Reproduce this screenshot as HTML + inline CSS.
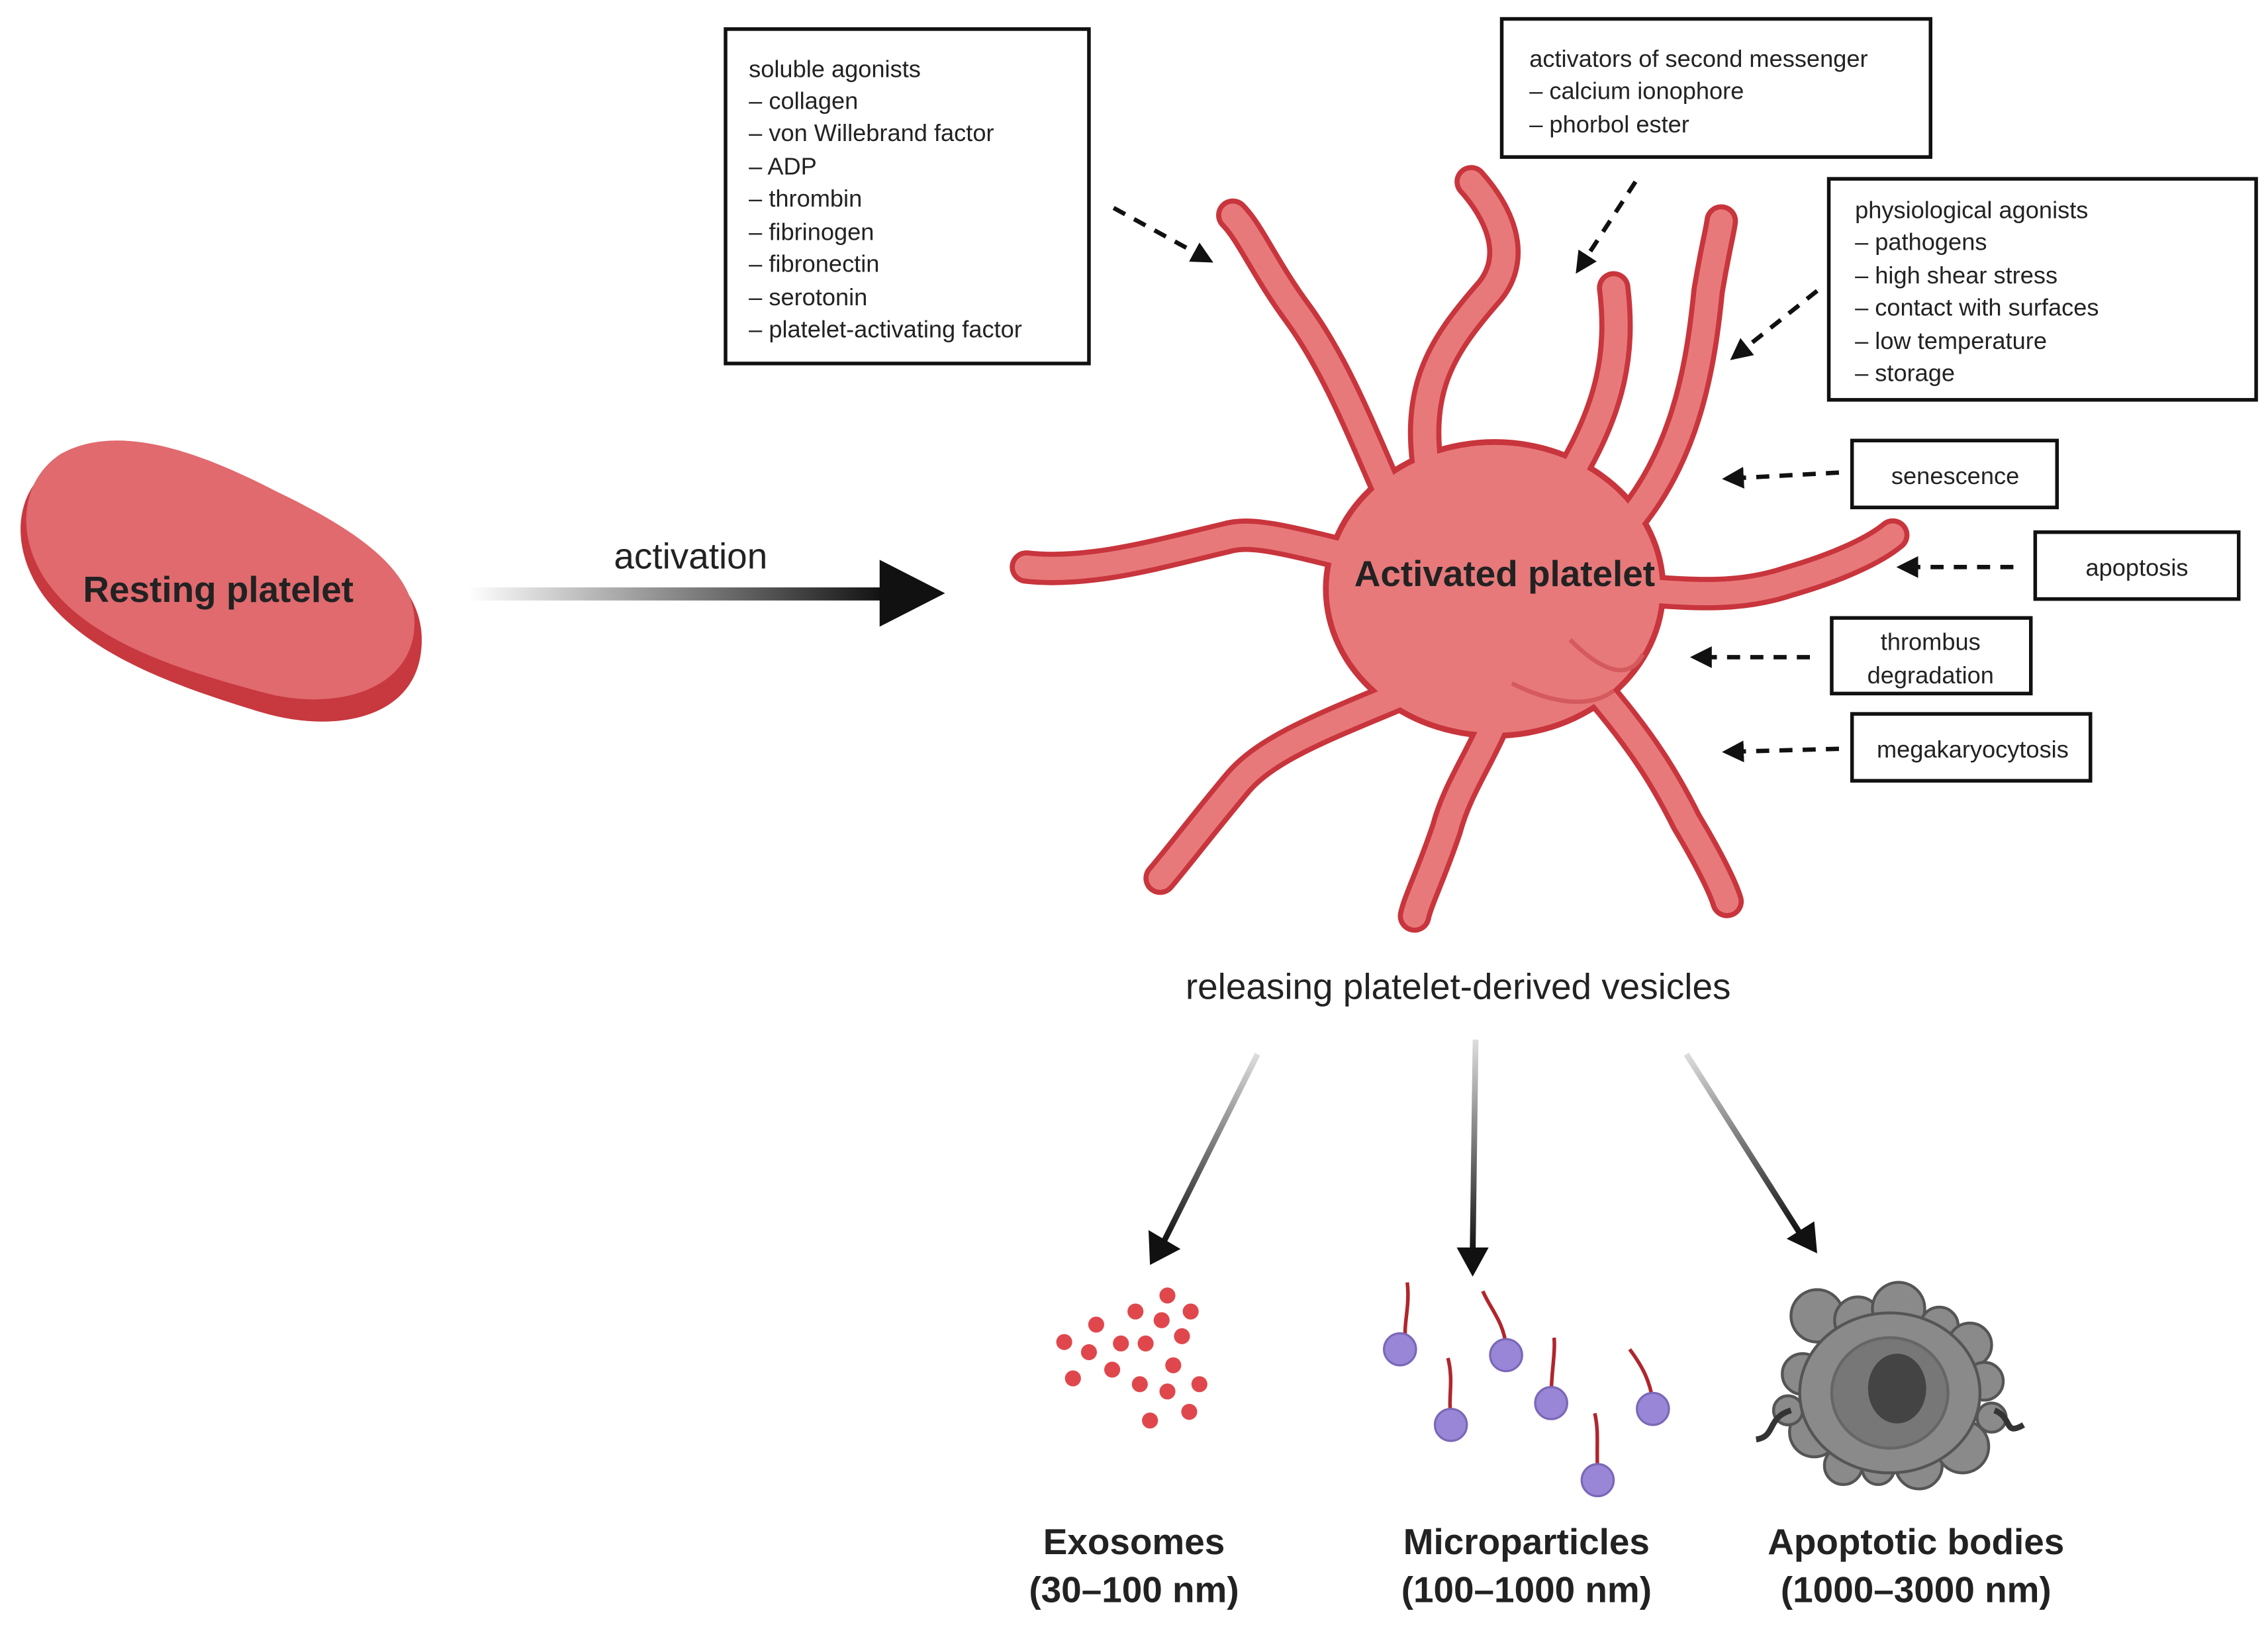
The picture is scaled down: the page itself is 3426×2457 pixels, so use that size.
<!DOCTYPE html>
<html><head><meta charset="utf-8"><style>
html,body{margin:0;padding:0;background:#fff;}
svg{display:block;}
text{font-family:"Liberation Sans",sans-serif;fill:#222;}
</style></head><body>
<svg width="3426" height="2457" viewBox="0 0 1560 1119" xmlns="http://www.w3.org/2000/svg">
<defs>
<linearGradient id="ga" x1="0" x2="1" y1="0" y2="0"><stop offset="0" stop-color="#fff"/><stop offset="1" stop-color="#111"/></linearGradient>
<linearGradient id="gd" x1="0" x2="0" y1="0" y2="1"><stop offset="0" stop-color="#ddd"/><stop offset="1" stop-color="#111"/></linearGradient>
<marker id="dh" markerWidth="5" markerHeight="5" refX="2.5" refY="2.5" orient="auto" markerUnits="strokeWidth"><path d="M0,0 L5,2.5 L0,5 z" fill="#111"/></marker>
<g id="pods">
<path d="M965,360 C945,320 925,260 893,216 C870,185 860,160 848,148"/>
<path d="M985,340 C970,270 990,240 1025,200 C1045,175 1030,145 1012,125"/>
<path d="M1075,335 C1110,280 1115,240 1110,198"/>
<path d="M1110,370 C1160,320 1170,250 1175,200 C1180,170 1183,160 1184,152"/>
<path d="M940,385 C880,370 860,365 843,370 C800,380 750,395 706,390"/>
<path d="M1120,405 C1170,410 1200,410 1230,400 C1265,390 1290,378 1302,368"/>
<path d="M970,475 C910,500 870,515 850,540 C825,570 810,590 798,604"/>
<path d="M1035,480 C1020,520 1003,540 995,570 C985,600 975,620 973,630"/>
<path d="M1095,470 C1130,510 1146,537 1160,565 C1175,590 1185,610 1188,620"/>
</g>
</defs>

<!-- Resting platelet -->
<path d="M40,318 C80,295 140,320 190,345 C240,370 290,395 290,440 C290,495 230,505 180,490 C120,472 60,450 30,410 C5,375 10,335 40,318 Z" fill="#c8383f"/>
<path d="M42,312 C82,290 140,312 190,338 C240,362 285,390 285,428 C285,475 230,490 180,476 C120,460 60,440 32,400 C10,368 14,330 42,312 Z" fill="#e06a6e"/>
<text x="150" y="414" font-size="25" font-weight="bold" text-anchor="middle">Resting platelet</text>

<!-- activation arrow -->
<rect x="322" y="404" width="286" height="9" fill="url(#ga)"/>
<path d="M605,385 L650,408 L605,431 Z" fill="#111"/>
<text x="475" y="391" font-size="25" text-anchor="middle">activation</text>

<!-- Activated platelet -->
<g fill="none" stroke-linecap="round" stroke-linejoin="round" stroke="#c8353c" stroke-width="23"><use href="#pods"/></g>
<ellipse cx="1028" cy="405" rx="118" ry="103" fill="#c8353c"/>
<g fill="none" stroke-linecap="round" stroke-linejoin="round" stroke="#e8797b" stroke-width="16"><use href="#pods"/></g>
<ellipse cx="1028" cy="405" rx="114" ry="99" fill="#e8797b"/>
<path d="M1080,440 C1100,460 1120,470 1130,450 M1040,470 C1060,480 1090,490 1110,475" stroke="#d45a5e" stroke-width="3" fill="none"/>
<text x="1035" y="403" font-size="25" font-weight="bold" text-anchor="middle">Activated platelet</text>

<!-- boxes -->
<g fill="#fff" stroke="#111" stroke-width="2.5">
<rect x="499" y="20" width="250" height="230"/>
<rect x="1033" y="13" width="295" height="95"/>
<rect x="1258" y="123" width="294" height="152"/>
<rect x="1274" y="303" width="141" height="46"/>
<rect x="1400" y="366" width="140" height="46"/>
<rect x="1260" y="425" width="137" height="52"/>
<rect x="1274" y="491" width="164" height="46"/>
</g>
<g font-size="16.5">
<text x="515" y="53">soluble agonists</text>
<text x="515" y="75">– collagen</text>
<text x="515" y="97">– von Willebrand factor</text>
<text x="515" y="120">– ADP</text>
<text x="515" y="142">– thrombin</text>
<text x="515" y="165">– fibrinogen</text>
<text x="515" y="187">– fibronectin</text>
<text x="515" y="210">– serotonin</text>
<text x="515" y="232">– platelet-activating factor</text>
<text x="1052" y="46">activators of second messenger</text>
<text x="1052" y="68">– calcium ionophore</text>
<text x="1052" y="91">– phorbol ester</text>
<text x="1276" y="150">physiological agonists</text>
<text x="1276" y="172">– pathogens</text>
<text x="1276" y="195">– high shear stress</text>
<text x="1276" y="217">– contact with surfaces</text>
<text x="1276" y="240">– low temperature</text>
<text x="1276" y="262">– storage</text>
<text x="1345" y="333" text-anchor="middle">senescence</text>
<text x="1470" y="396" text-anchor="middle">apoptosis</text>
<text x="1328" y="447" text-anchor="middle">thrombus</text>
<text x="1328" y="470" text-anchor="middle">degradation</text>
<text x="1357" y="521" text-anchor="middle">megakaryocytosis</text>
</g>

<!-- dashed arrows -->
<g stroke="#111" stroke-width="3" stroke-dasharray="9,7" fill="none" marker-end="url(#dh)">
<line x1="766" y1="143" x2="828" y2="177"/>
<line x1="1125" y1="125" x2="1088" y2="182"/>
<line x1="1250" y1="200" x2="1196" y2="243"/>
<line x1="1265" y1="325" x2="1192" y2="329"/>
<line x1="1385" y1="390" x2="1312" y2="390"/>
<line x1="1245" y1="452" x2="1170" y2="452"/>
<line x1="1265" y1="515" x2="1192" y2="517"/>
</g>

<text x="1003" y="687" font-size="25" text-anchor="middle">releasing platelet-derived vesicles</text>

<!-- vesicle arrows -->
<g stroke-width="4" fill="none">
<line x1="865" y1="725" x2="800" y2="855" stroke="url(#gd)"/>
<line x1="1015" y1="715" x2="1013" y2="862" stroke="url(#gd)"/>
<line x1="1160" y1="725" x2="1238" y2="848" stroke="url(#gd)"/>
</g>
<path d="M790,846 L812,859 L791,870 Z" fill="#111"/>
<path d="M1002,858 L1024,858 L1013,878 Z" fill="#111"/>
<path d="M1229,852 L1248,840 L1250,862 Z" fill="#111"/>

<!-- exosomes -->
<g fill="#e0474c">
<circle cx="803" cy="891" r="5.5"/><circle cx="781" cy="902" r="5.5"/><circle cx="819" cy="902" r="5.5"/>
<circle cx="799" cy="908" r="5.5"/><circle cx="754" cy="911" r="5.5"/><circle cx="813" cy="919" r="5.5"/>
<circle cx="732" cy="923" r="5.5"/><circle cx="771" cy="924" r="5.5"/><circle cx="788" cy="924" r="5.5"/>
<circle cx="749" cy="930" r="5.5"/><circle cx="807" cy="939" r="5.5"/><circle cx="765" cy="942" r="5.5"/>
<circle cx="738" cy="948" r="5.5"/><circle cx="784" cy="952" r="5.5"/><circle cx="825" cy="952" r="5.5"/>
<circle cx="803" cy="957" r="5.5"/><circle cx="818" cy="971" r="5.5"/><circle cx="791" cy="977" r="5.5"/>
</g>

<!-- microparticles -->
<g stroke="#b0262d" stroke-width="2.5" fill="none">
<path d="M967,923 C965,910 970,900 968,882"/>
<path d="M1036,927 C1035,910 1025,900 1020,888"/>
<path d="M998,975 C996,960 1000,950 996,934"/>
<path d="M1067,960 C1067,945 1070,930 1069,920"/>
<path d="M1137,964 C1135,950 1130,940 1121,928"/>
<path d="M1099,1013 C1098,995 1100,985 1097,972"/>
</g>
<g fill="#9a86d6" stroke="#7b68b8" stroke-width="1.5">
<circle cx="963" cy="928" r="11"/><circle cx="1036" cy="932" r="11"/>
<circle cx="998" cy="980" r="11"/><circle cx="1067" cy="965" r="11"/>
<circle cx="1137" cy="969" r="11"/><circle cx="1099" cy="1018" r="11"/>
</g>

<!-- apoptotic body -->
<g fill="#8a8a8a" stroke="#555" stroke-width="2">
<circle cx="1250" cy="905" r="18"/><circle cx="1278" cy="908" r="16"/><circle cx="1306" cy="900" r="18"/>
<circle cx="1334" cy="912" r="13"/><circle cx="1355" cy="925" r="15"/><circle cx="1240" cy="945" r="14"/>
<circle cx="1365" cy="950" r="13"/><circle cx="1248" cy="985" r="17"/><circle cx="1268" cy="1008" r="13"/>
<circle cx="1292" cy="1010" r="11"/><circle cx="1320" cy="1008" r="16"/><circle cx="1350" cy="995" r="18"/>
<circle cx="1230" cy="970" r="10"/><circle cx="1370" cy="975" r="10"/>
<ellipse cx="1300" cy="958" rx="62" ry="55"/>
</g>
<ellipse cx="1300" cy="958" rx="40" ry="38" fill="#777" stroke="#666" stroke-width="2"/>
<ellipse cx="1305" cy="955" rx="20" ry="24" fill="#444"/>
<path d="M1232,970 C1215,975 1222,988 1208,990" stroke="#333" stroke-width="4" fill="none"/>
<path d="M1372,970 C1385,975 1378,988 1392,980" stroke="#333" stroke-width="4" fill="none"/>

<!-- labels -->
<g font-size="25" font-weight="bold" text-anchor="middle">
<text x="780" y="1069">Exosomes</text>
<text x="780" y="1102">(30–100 nm)</text>
<text x="1050" y="1069">Microparticles</text>
<text x="1050" y="1102">(100–1000 nm)</text>
<text x="1318" y="1069">Apoptotic bodies</text>
<text x="1318" y="1102">(1000–3000 nm)</text>
</g>
</svg>
</body></html>
